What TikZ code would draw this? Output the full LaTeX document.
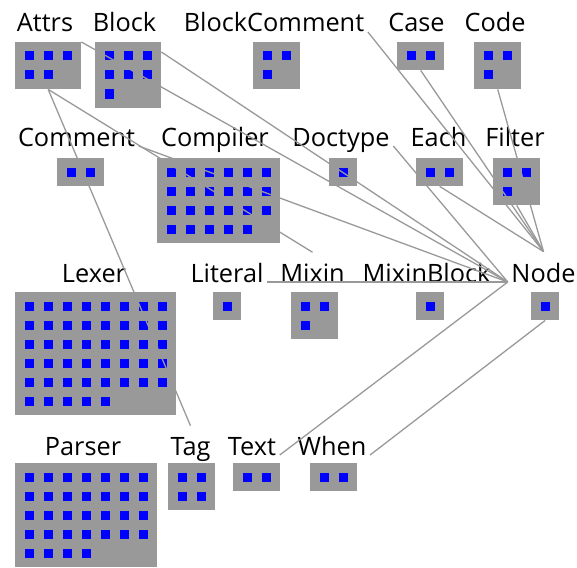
\documentclass[tikz,border=0pt]{standalone}
\usepackage{fontspec}
\setsansfont{Open Sans}
\usetikzlibrary{calc}

\definecolor{boxgray}{RGB}{153,153,153}
\definecolor{methodblue}{RGB}{0,0,255}

\begin{document}
\begin{tikzpicture}[
  x=1pt,y=-1pt,
  font=\sffamily\fontsize{25.3}{30}\selectfont,
  classBox/.style={fill=boxgray,draw=none,inner sep=0,anchor=north west},
  method/.style={fill=methodblue,draw=none,inner sep=0,minimum size=9pt},
  className/.style={anchor=base,inner xsep=3.5pt,inner ysep=11pt,text=black},
  uses/.style={draw=boxgray,line width=1.3pt}]

  \useasboundingbox (0,0) rectangle (577,567);

  % class boxes, their methods and their names
  \foreach \name/\txt/\x/\y/\c/\n/\lx/\ly in {
      attrs/Attrs/15/42/3/5/45/32,
      block/Block/95/42/3/7/124.5/32,
      blockComment/BlockComment/253/42/2/3/274/32,
      case/Case/397/42/2/2/416.5/32,
      code/Code/474/42/2/3/495/32,
      comment/Comment/57/158/2/2/76.5/146,
      compiler/Compiler/157/158/6/23/215/146,
      doctype/Doctype/329/158/1/1/341/146,
      each/Each/416/158/2/2/438.5/146,
      filter/Filter/493/158/2/3/515/146,
      lexer/Lexer/15/292/8/45/94/282,
      literal/Literal/213/292/1/1/227/282,
      mixin/Mixin/291/292/2/3/312.5/282,
      mixinBlock/MixinBlock/416/292/1/1/426.5/282,
      node/Node/531/292/1/1/543.5/282,
      parser/Parser/15/463/7/32/83/455,
      tag/Tag/168/463/2/4/190.5/455,
      text/Text/233/463/2/2/252/455,
      when/When/310/463/2/2/332/455} {
    \pgfmathsetmacro\w{9+19*\c}
    \pgfmathtruncatemacro\rows{ceil(\n/\c)}
    \pgfmathsetmacro\h{9+19*\rows}
    \pgfmathtruncatemacro\last{\n-1}
    \node[classBox,minimum width=\w pt,minimum height=\h pt] (\name) at (\x,\y) {};
    \foreach \i in {0,...,\last} {
      \pgfmathtruncatemacro\col{mod(\i,\c)}
      \pgfmathtruncatemacro\row{div(\i,\c)}
      \node[method] (\name-\i) at ($(\name.north west)+(14+19*\col,14+19*\row)$) {};
    }
    \node[className] (\name L) at (\lx,\ly) {\txt};
  }

  % dependencies (same grey as the boxes, so only seen over white and over methods)
  \draw[uses] (attrs.north east) -- (nodeL.base west);
  \draw[uses] ($(block.north east)+(0,10)$) -- (nodeL.base west);
  \draw[uses] (attrs.south) -- (mixinL.north);
  \draw[uses] (attrs.south) -- (tagL.north);
  \draw[uses] (blockCommentL.base east) -- (nodeL.north);
  \draw[uses] (case.south) -- (nodeL.north);
  \draw[uses] (code.south) -- (nodeL.north);
  \draw[uses] (each.south) -- (nodeL.north);
  \draw[uses] (filter.south) -- (nodeL.north);
  \draw[uses] (commentL.base east) -- (nodeL.base west);
  \draw[uses] (doctypeL.base east) -- (nodeL.base west);
  \draw[uses] (literalL.base east) -- (nodeL.base west);
  \draw[uses] (textL.base east) -- (nodeL.base west);
  \draw[uses] (whenL.base east) -- (node.south);
\end{tikzpicture}
\end{document}
